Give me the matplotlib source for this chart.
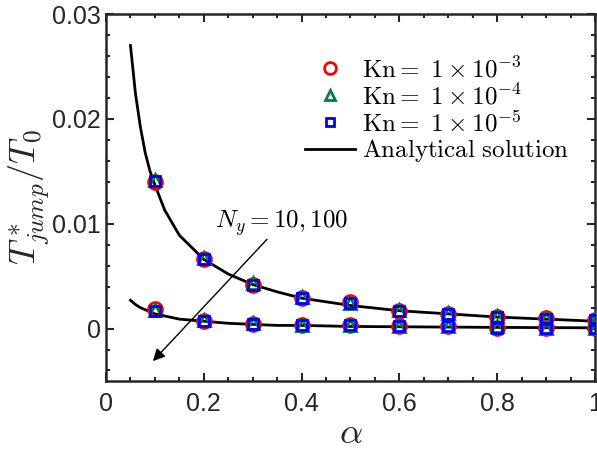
import numpy as np
import matplotlib.pyplot as plt

plt.rcParams['mathtext.fontset'] = 'cm'
plt.rcParams['font.family'] = ['Liberation Sans', 'DejaVu Sans']

# markers (numerical results), alpha = 0.1 ... 1.0
alpha_pts = [0.1, 0.2, 0.3, 0.4, 0.5, 0.6, 0.7, 0.8, 0.9, 1.0]

# Ny = 10 (upper branch)
kn3_ny10 = [0.0140, 0.0066, 0.0042, 0.0029, 0.0025, 0.0017, 0.0014, 0.0011, 0.0010, 0.0008]
kn4_ny10 = [0.0142, 0.0067, 0.0043, 0.0030, 0.0024, 0.0018, 0.0015, 0.0012, 0.0010, 0.0009]
kn5_ny10 = [0.0141, 0.0066, 0.0042, 0.0029, 0.0024, 0.0017, 0.0014, 0.0011, 0.0009, 0.0008]

# Ny = 100 (lower branch)
kn3_ny100 = [0.0019, 0.0007, 0.0004, 0.0003, 0.0003, 0.0002, 0.0002, 0.0001, 0.0001, 0.0001]
kn4_ny100 = [0.0018, 0.0008, 0.0005, 0.0003, 0.0003, 0.0002, 0.0002, 0.0002, 0.0001, 0.0001]
kn5_ny100 = [0.0017, 0.0007, 0.0004, 0.0003, 0.0003, 0.0002, 0.0002, 0.0001, 0.0001, 0.0001]

# analytical solution
alpha_line = [0.05, 0.06, 0.07, 0.08, 0.09, 0.10, 0.12, 0.15, 0.20, 0.25, 0.30,
              0.35, 0.40, 0.50, 0.60, 0.70, 0.80, 0.90, 1.00]
ana_ny10 = [0.0270, 0.0225, 0.0193, 0.0168, 0.0150, 0.0137, 0.0113, 0.0089, 0.0066,
            0.0052, 0.0042, 0.0035, 0.0029, 0.0022, 0.0017, 0.0014, 0.0011, 0.0009, 0.0007]
ana_ny100 = [0.0027, 0.0023, 0.0020, 0.0018, 0.0016, 0.0014, 0.0012, 0.0009, 0.0007,
             0.0005, 0.0004, 0.0003, 0.0003, 0.0002, 0.00017, 0.00014, 0.00011, 0.00009, 0.00007]

fig = plt.figure(figsize=(5.97, 4.53), dpi=100)
ax = fig.add_axes([0.1776, 0.159, 0.819, 0.810])

ms = 10
ax.plot(alpha_line, ana_ny10, color='k', lw=2, label=r'$\mathrm{Analytical\ solution}$', zorder=1)
ax.plot(alpha_line, ana_ny100, color='k', lw=2, zorder=1)

ax.plot(alpha_pts, kn3_ny10, 'o', mfc='none', mec='red', mew=2, ms=ms,
        label=r'$\mathrm{Kn}{=}\ 1\times10^{-3}$', zorder=2)
ax.plot(alpha_pts, kn3_ny100, 'o', mfc='none', mec='red', mew=2, ms=ms, zorder=2)
ax.plot(alpha_pts, kn4_ny10, '^', mfc='none', mec='#007f3f', mew=2, ms=ms - 2,
        label=r'$\mathrm{Kn}{=}\ 1\times10^{-4}$', zorder=3)
ax.plot(alpha_pts, kn4_ny100, '^', mfc='none', mec='#007f3f', mew=2, ms=ms - 2, zorder=3)
ax.plot(alpha_pts, kn5_ny10, 's', mfc='none', mec='blue', mew=2, ms=ms - 3,
        label=r'$\mathrm{Kn}{=}\ 1\times10^{-5}$', zorder=4)
ax.plot(alpha_pts, kn5_ny100, 's', mfc='none', mec='blue', mew=2, ms=ms - 3, zorder=4)

ax.annotate('', xy=(0.092, -0.0033), xytext=(0.333, 0.0087),
            arrowprops=dict(arrowstyle='-|>', color='k', lw=1.0, mutation_scale=18))
ax.text(0.222, 0.0101, r'$N_y=10,100$', fontsize=18, va='center', ha='left')

ax.set_xlim(0, 1)
ax.set_ylim(-0.005, 0.03)
ax.set_xticks([0, 0.2, 0.4, 0.6, 0.8, 1])
ax.set_xticklabels(['0', '0.2', '0.4', '0.6', '0.8', '1'])
ax.set_yticks([0, 0.01, 0.02, 0.03])
ax.set_yticklabels(['0', '0.01', '0.02', '0.03'])
ax.set_xticks(np.arange(0, 1.0001, 0.05), minor=True)
ax.set_yticks(np.arange(-0.004, 0.0301, 0.002), minor=True)
ax.tick_params(which='both', direction='in', top=True, right=True, colors='#262626',
               labelsize=18, width=1.5)
ax.tick_params(which='major', length=6)
ax.tick_params(which='minor', length=3)
ax.tick_params(axis='x', pad=8)
for sp in ax.spines.values():
    sp.set_linewidth(1.8)
    sp.set_color('#262626')

ax.set_xlabel(r'$\alpha$', fontsize=26, color='#262626', labelpad=0)
ax.set_ylabel(r'$T^*_{jump}/T_0$', fontsize=26, color='#262626', labelpad=0)

h, l = ax.get_legend_handles_labels()
order = [1, 2, 3, 0]
ax.legend([h[i] for i in order], [l[i] for i in order], loc='upper right',
          bbox_to_anchor=(0.994, 0.946), frameon=False, fontsize=18,
          handlelength=2.0, handletextpad=0.3, labelspacing=0.05, markerscale=0.85)

fig.savefig('out.png', dpi=100)
